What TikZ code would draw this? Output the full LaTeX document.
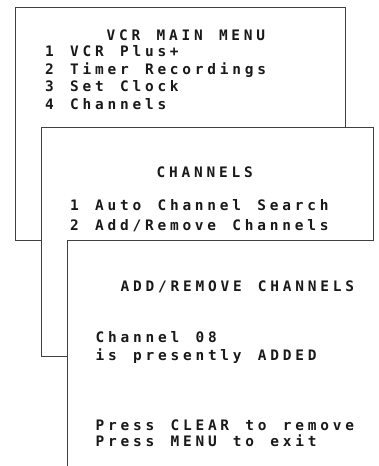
\documentclass[tikz,border=0pt]{standalone}
\usepackage{fontspec}
\newfontfamily\scrfont[UprightFont={* Bold}]{DejaVu Sans Mono}
\newlength\scrpitch
\setlength\scrpitch{12.48bp}
\ExplSyntaxOn
\NewDocumentCommand\monoline{m}{\str_map_inline:nn {#1} {\makebox[\scrpitch][l]{##1}}}
\ExplSyntaxOff
\newcommand\myscreenfont{\scrfont\fontsize{14.5}{16}\selectfont}
\begin{document}
\begin{tikzpicture}[x=1bp,y=-1bp,
  panel/.style={fill=white,draw=black!75,line width=0.9bp},
  txt/.style={anchor=base west,inner sep=0pt,font=\myscreenfont,text=black!90}]
\useasboundingbox (0,0) rectangle (378,466);
% first screen
\filldraw[panel] (15,7.5) rectangle (345,240);
\node[txt] (m0) at (106.5,40.7) {\monoline{VCR MAIN MENU}};
\node[txt] (m1) at (45,56.7) {\monoline{1 VCR Plus+}};
\node[txt] (m2) at (45,74.3) {\monoline{2 Timer Recordings}};
\node[txt] (m3) at (45,91.7) {\monoline{3 Set Clock}};
\node[txt] (m4) at (45,109.3) {\monoline{4 Channels}};
% second screen
\filldraw[panel] (41,127) rectangle (373,356);
\node[txt] (c0) at (156.5,177.3) {\monoline{CHANNELS}};
\node[txt] (c1) at (70,210.7) {\monoline{1 Auto Channel Search}};
\node[txt] (c2) at (70,230.7) {\monoline{2 Add/Remove Channels}};
% third screen
\fill[white] (67,240) rectangle (374,466);
\draw[panel,fill=none] (67,466) -- (67,240) -- (374,240);
\node[txt] (a0) at (120.5,291) {\monoline{ADD/REMOVE CHANNELS}};
\node[txt] (a1) at (95.5,342.7) {\monoline{Channel 08}};
\node[txt] (a2) at (95.5,360) {\monoline{is presently ADDED}};
\node[txt] (a3) at (95.5,430) {\monoline{Press CLEAR to remove}};
\node[txt] (a4) at (95.5,446) {\monoline{Press MENU to exit}};
\end{tikzpicture}
\end{document}
